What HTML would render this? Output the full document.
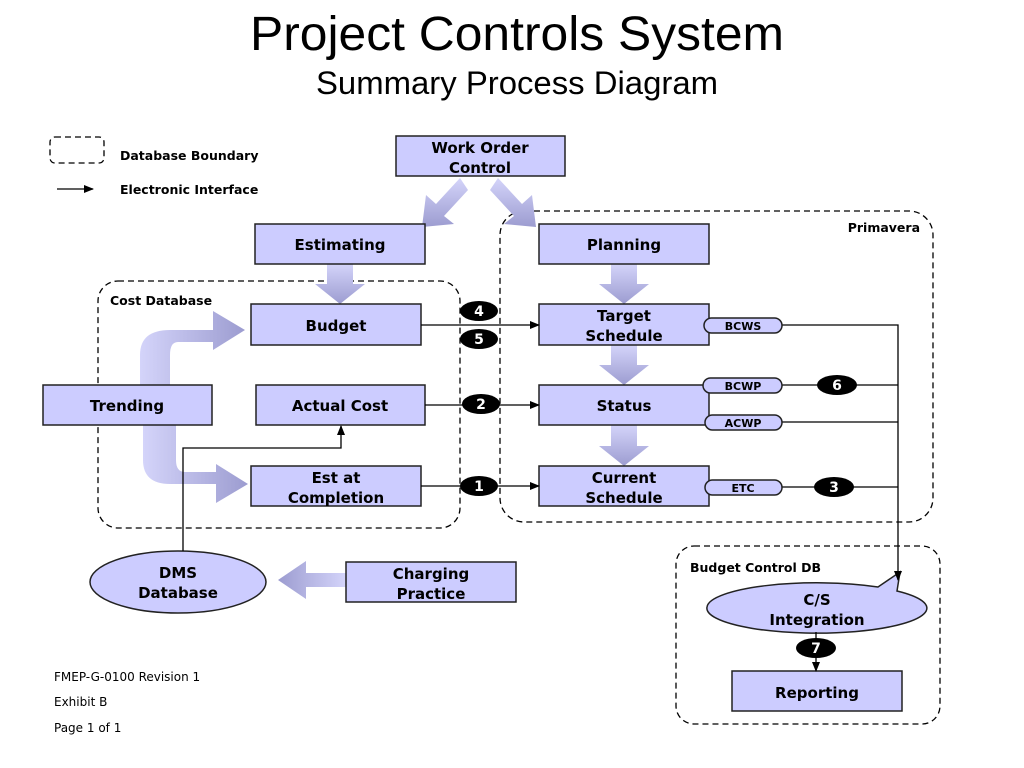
<!DOCTYPE html>
<html><head><meta charset="utf-8"><style>
html,body{margin:0;padding:0;background:#fff;}
svg{display:block;}
.b{font-family:"DejaVu Sans","Liberation Sans",sans-serif;font-weight:bold;font-size:15px;fill:#000;text-anchor:middle;}
.s{font-family:"DejaVu Sans","Liberation Sans",sans-serif;font-weight:bold;font-size:12.5px;fill:#000;}
.p{font-family:"DejaVu Sans","Liberation Sans",sans-serif;font-weight:bold;font-size:11px;fill:#000;text-anchor:middle;}
.n{font-family:"DejaVu Sans","Liberation Sans",sans-serif;font-weight:bold;font-size:14px;fill:#fff;text-anchor:middle;}
.f{font-family:"DejaVu Sans","Liberation Sans",sans-serif;font-size:12px;fill:#000;}
.box{fill:#ccccff;stroke:#222;stroke-width:1.5;}
.d{fill:none;stroke:#000;stroke-width:1.3;stroke-dasharray:6,4;}
.l{fill:none;stroke:#000;stroke-width:1.3;}
</style></head><body>
<svg width="1024" height="768" viewBox="0 0 1024 768">
<defs>
<marker id="ah" markerWidth="10" markerHeight="8" refX="9" refY="4" orient="auto" markerUnits="userSpaceOnUse"><path d="M0,0 L10,4 L0,8 z" fill="#000"/></marker>
<linearGradient id="gv" x1="0" y1="0" x2="0" y2="1"><stop offset="0" stop-color="#d4d4fa"/><stop offset="1" stop-color="#9c9cd0"/></linearGradient>
<linearGradient id="gh" x1="0" y1="0" x2="1" y2="0"><stop offset="0" stop-color="#d4d4fa"/><stop offset="1" stop-color="#9c9cd0"/></linearGradient>
<linearGradient id="ghl" x1="1" y1="0" x2="0" y2="0"><stop offset="0" stop-color="#d4d4fa"/><stop offset="1" stop-color="#9c9cd0"/></linearGradient>
</defs>

<text x="517" y="50" text-anchor="middle" font-family="Liberation Sans Narrow,Liberation Sans,sans-serif" font-size="48" textLength="534" lengthAdjust="spacingAndGlyphs">Project Controls System</text>
<text x="517" y="94" text-anchor="middle" font-family="Liberation Sans Narrow,Liberation Sans,sans-serif" font-size="32" textLength="402" lengthAdjust="spacingAndGlyphs">Summary Process Diagram</text>

<!-- legend -->
<rect x="50" y="137" width="54" height="26" rx="5" class="d"/>
<text x="120" y="160" class="s">Database Boundary</text>
<line x1="57" y1="189" x2="93" y2="189" class="l" marker-end="url(#ah)"/>
<text x="120" y="194" class="s">Electronic Interface</text>

<!-- dashed boundaries -->
<rect x="98" y="281" width="362" height="247" rx="20" class="d"/>
<text x="110" y="305" class="s">Cost Database</text>
<rect x="500" y="211" width="433" height="311" rx="24" class="d"/>
<text x="920" y="232" class="s" text-anchor="end">Primavera</text>
<rect x="676" y="546" width="264" height="178" rx="18" class="d"/>
<text x="690" y="572" class="s">Budget Control DB</text>

<!-- fat arrows -->
<path d="M327,264 h26 v20 h12 l-25,20 l-25,-20 h12 z" fill="url(#gv)"/>
<path d="M611,264 h26 v20 h12 l-25,20 l-25,-20 h12 z" fill="url(#gv)"/>
<path d="M611,345 h26 v20 h12 l-25,20 l-25,-20 h12 z" fill="url(#gv)"/>
<path d="M611,425 h26 v21 h12 l-25,20 l-25,-20 h12 z" fill="url(#gv)"/>
<path d="M346,573 h-40 v-12 l-28,19 l28,19 v-12 h40 z" fill="url(#ghl)"/>
<path d="M460,178 l-24,26 l-10,-9 l-4,32 l32,-3 l-10,-8 l24,-26 z" fill="url(#gv)"/>
<path d="M498,178 l24,26 l10,-9 l4,32 l-32,-3 l10,-8 l-24,-26 z" fill="url(#gv)"/>
<!-- trending curved arrows -->
<path d="M140,385 V355 Q140,330 170,330 H213 V311 L245,330 L213,350 V342 H178 Q170,342 170,355 V385 Z" fill="url(#gh)"/>
<path d="M143,425 V460 Q143,484 170,484 H216 V503 L248,484 L216,464 V472 H185 Q176,472 176,460 V425 Z" fill="url(#gh)"/>

<!-- boxes -->
<rect x="396" y="136" width="169" height="40" class="box"/>
<text x="480" y="153" class="b">Work Order</text><text x="480" y="173" class="b">Control</text>
<rect x="255" y="224" width="170" height="40" class="box"/><text x="340" y="250" class="b">Estimating</text>
<rect x="539" y="224" width="170" height="40" class="box"/><text x="624" y="250" class="b">Planning</text>
<rect x="251" y="304" width="170" height="41" class="box"/><text x="336" y="331" class="b">Budget</text>
<rect x="256" y="385" width="169" height="40" class="box"/><text x="340" y="411" class="b">Actual Cost</text>
<rect x="251" y="466" width="170" height="40" class="box"/>
<text x="336" y="483" class="b">Est at</text><text x="336" y="503" class="b">Completion</text>
<rect x="539" y="304" width="170" height="41" class="box"/>
<text x="624" y="321" class="b">Target</text><text x="624" y="341" class="b">Schedule</text>
<rect x="539" y="385" width="170" height="40" class="box"/><text x="624" y="411" class="b">Status</text>
<rect x="539" y="466" width="170" height="40" class="box"/>
<text x="624" y="483" class="b">Current</text><text x="624" y="503" class="b">Schedule</text>
<rect x="43" y="385" width="169" height="40" class="box"/><text x="127" y="411" class="b">Trending</text>
<rect x="346" y="562" width="170" height="40" class="box"/>
<text x="431" y="579" class="b">Charging</text><text x="431" y="599" class="b">Practice</text>
<rect x="732" y="671" width="170" height="40" class="box"/><text x="817" y="698" class="b">Reporting</text>
<ellipse cx="178" cy="582" rx="88" ry="31" class="box"/>
<text x="178" y="578" class="b">DMS</text><text x="178" y="598" class="b">Database</text>
<path d="M707,607 A110,25 0 0 1 878,587 L900,572 L897,591 A110,25 0 1 1 707,607 Z" class="box"/>
<text x="817" y="605" class="b">C/S</text><text x="817" y="625" class="b">Integration</text>

<!-- connectors -->
<line x1="421" y1="325" x2="539" y2="325" class="l" marker-end="url(#ah)"/>
<line x1="425" y1="405" x2="539" y2="405" class="l" marker-end="url(#ah)"/>
<line x1="421" y1="486" x2="539" y2="486" class="l" marker-end="url(#ah)"/>
<path d="M183,551 V448 H341 V426" class="l" marker-end="url(#ah)"/>
<path d="M782,325 H898 V580" class="l" marker-end="url(#ah)"/>
<line x1="782" y1="385" x2="898" y2="385" class="l"/>
<line x1="782" y1="422" x2="898" y2="422" class="l"/>
<line x1="782" y1="487" x2="898" y2="487" class="l"/>
<line x1="816" y1="632" x2="816" y2="671" class="l" marker-end="url(#ah)"/>

<!-- pills -->
<rect x="704" y="318" width="78" height="15" rx="7.5" class="box"/><text x="743" y="330" class="p">BCWS</text>
<rect x="703" y="378" width="79" height="15" rx="7.5" class="box"/><text x="743" y="390" class="p">BCWP</text>
<rect x="705" y="415" width="77" height="15" rx="7.5" class="box"/><text x="743" y="427" class="p">ACWP</text>
<rect x="705" y="480" width="77" height="15" rx="7.5" class="box"/><text x="743" y="492" class="p">ETC</text>

<!-- badges -->
<g>
<ellipse cx="479" cy="311" rx="19" ry="10"/><text x="479" y="316" class="n">4</text>
<ellipse cx="479" cy="339" rx="19" ry="10"/><text x="479" y="344" class="n">5</text>
<ellipse cx="481" cy="404" rx="19" ry="10"/><text x="481" y="409" class="n">2</text>
<ellipse cx="479" cy="486" rx="19" ry="10"/><text x="479" y="491" class="n">1</text>
<ellipse cx="837" cy="385" rx="20" ry="10"/><text x="837" y="390" class="n">6</text>
<ellipse cx="834" cy="487" rx="20" ry="10"/><text x="834" y="492" class="n">3</text>
<ellipse cx="816" cy="648" rx="20" ry="10"/><text x="816" y="653" class="n">7</text>
</g>

<text x="54" y="681" class="f">FMEP-G-0100 Revision 1</text>
<text x="54" y="706" class="f">Exhibit B</text>
<text x="54" y="732" class="f">Page 1 of 1</text>
</svg>
</body></html>
